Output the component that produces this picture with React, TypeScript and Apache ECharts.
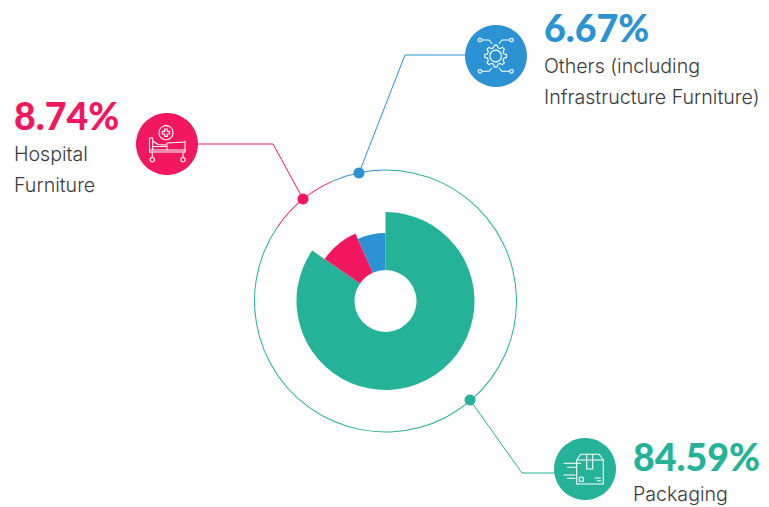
import React, { useEffect, useRef } from "react";
import * as echarts from "echarts";

const categories = ["Packaging", "Hospital Furniture", "Others (including Infrastructure Furniture)"];
const values = [84.59, 8.74, 6.67];
const colors = ["#24B299", "#F2175F", "#2B93D3"];
const outerRadii = [89, 74, 68];

const W = "#ffffff";
const sl = (points: number[][], lineWidth = 1.1) => ({
  type: "polyline",
  shape: { points },
  style: { stroke: W, fill: "none", lineWidth, lineJoin: "round", lineCap: "round" },
  silent: true,
});
const ci = (cx: number, cy: number, r: number, lineWidth = 1.1) => ({
  type: "circle",
  shape: { cx, cy, r },
  style: { stroke: W, fill: "none", lineWidth },
  silent: true,
});
const gearPoints = (cx: number, cy: number) => {
  const pts: number[][] = [];
  const teeth = 8;
  for (let i = 0; i < teeth; i++) {
    const a = (i / teeth) * Math.PI * 2;
    const d = Math.PI / teeth;
    [[-0.62, 8.6], [-0.32, 11], [0.32, 11], [0.62, 8.6]].forEach(([k, r]) => {
      pts.push([cx + r * Math.cos(a + k * d), cy + r * Math.sin(a + k * d)]);
    });
  }
  pts.push(pts[0]);
  return pts;
};

const leader = (points: number[][], color: string) => ({
  type: "polyline",
  shape: { points },
  style: { stroke: color, fill: "none", lineWidth: 1 },
  silent: true,
});
const disc = (cx: number, cy: number, r: number, color: string) => ({
  type: "circle",
  shape: { cx, cy, r },
  style: { fill: color },
  silent: true,
});
const pct = (x: number, y: number, i: number) => ({
  type: "text",
  x,
  y,
  style: {
    text: values[i].toFixed(2) + "%",
    fill: colors[i],
    font: `900 37.5px Lato`,
    textVerticalAlign: "middle",
  },
  silent: true,
});
const lab = (x: number, y: number, text: string) => ({
  type: "text",
  x,
  y,
  style: { text, fill: "#3a3a3a", font: `300 19.6px Inter`, textVerticalAlign: "middle" },
  silent: true,
});

const graphicElements: any[] = [
  leader([[359, 173], [405, 55], [470, 55]], colors[2]),
  leader([[303, 199], [273, 144], [195, 144]], colors[1]),
  leader([[470, 400], [522, 473], [560, 473]], colors[0]),
  disc(359, 173, 5.5, colors[2]),
  disc(303, 199, 5.5, colors[1]),
  disc(470, 400, 5.5, colors[0]),
  disc(496, 56, 31, colors[2]),
  disc(167, 144, 31, colors[1]),
  disc(585, 469, 31, colors[0]),
  // gear icon
  sl(gearPoints(495.7, 56)),
  ci(495.7, 56, 5.8),
  ci(480, 40, 1.8),
  ci(511.5, 40, 1.8),
  ci(480, 71.3, 1.8),
  ci(511.5, 71.3, 1.8),
  sl([[482, 40], [489, 40], [492, 43.5]]),
  sl([[509.5, 40], [502, 40], [499, 43.5]]),
  sl([[482, 71.3], [489, 71.3], [492, 68]]),
  sl([[509.5, 71.3], [502, 71.3], [499, 68]]),
  // bed icon
  ci(166, 132.7, 7),
  sl([[164.7, 129], [167.3, 129], [167.3, 131.4], [169.7, 131.4], [169.7, 134], [167.3, 134], [167.3, 136.4], [164.7, 136.4], [164.7, 134], [162.3, 134], [162.3, 131.4], [164.7, 131.4], [164.7, 129]]),
  sl([[149.5, 152], [149.5, 138], [152.7, 138], [152.7, 150]]),
  sl([[149.5, 150], [185, 150]]),
  sl([[149.5, 152], [185, 152]]),
  sl([[185, 152], [185, 141]]),
  sl([[167, 150], [167, 143], [184.5, 142]]),
  sl([[152.7, 141], [158, 144.5], [166, 145]]),
  sl([[152.7, 146.5], [166, 146.5]]),
  sl([[152.3, 152], [152.3, 157.5]]),
  sl([[183, 152], [183, 157.5]]),
  ci(152.3, 159.7, 2.2),
  ci(183, 159.7, 2.2),
  // box icon
  sl([[576.7, 460], [580.7, 454.3], [599.3, 454.3], [603.3, 460], [603.3, 484], [576.7, 484], [576.7, 460], [603.3, 460]]),
  sl([[586.7, 454.3], [586.7, 469], [592.7, 469], [592.7, 454.3]]),
  sl([[579.3, 477.3], [583.3, 477.3], [583.3, 481.3], [579.3, 481.3], [579.3, 477.3]]),
  sl([[595, 478], [600.7, 478]]),
  sl([[597.3, 480.7], [600.7, 480.7]]),
  sl([[564, 463.3], [580.7, 463.3]]),
  sl([[567.3, 467.3], [576.7, 467.3]]),
  sl([[564, 475], [575, 475]]),
  sl([[567.3, 478.3], [575, 478.3]]),
  // texts
  pct(544, 27, 2),
  lab(544, 66, "Others (including"),
  lab(544, 97, "Infrastructure Furniture)"),
  pct(14, 115, 1),
  lab(14, 154, "Hospital"),
  lab(14, 185, "Furniture"),
  pct(633, 456, 0),
  lab(633, 494, categories[0]),
];

const pieBase = {
  type: "pie",
  center: [385.5, 301],
  startAngle: 90,
  clockwise: true,
  silent: true,
  label: { show: false },
  labelLine: { show: false },
  emphasis: { disabled: true },
  itemStyle: { borderWidth: 0 },
};

export default function App() {
  const ref = useRef<HTMLDivElement>(null);
  useEffect(() => {
    document.body.style.margin = "0";
    const chart = echarts.init(ref.current!, undefined, { renderer: "svg" });
    chart.setOption({
      animation: false,
      backgroundColor: "#ffffff",
      series: [
        {
          ...pieBase,
          radius: [130.5, 131.5],
          data: categories.map((name, i) => ({ name, value: values[i], itemStyle: { color: colors[i] } })),
        },
        ...categories.map((_, s) => ({
          ...pieBase,
          radius: [31, outerRadii[s]],
          data: categories.map((name, i) => ({
            name,
            value: values[i],
            itemStyle: { color: i === s ? colors[i] : "transparent" },
          })),
        })),
      ],
      graphic: { elements: graphicElements },
    });
    return () => chart.dispose();
  }, []);
  return <div ref={ref} style={{ width: 769, height: 507 }} />;
}
